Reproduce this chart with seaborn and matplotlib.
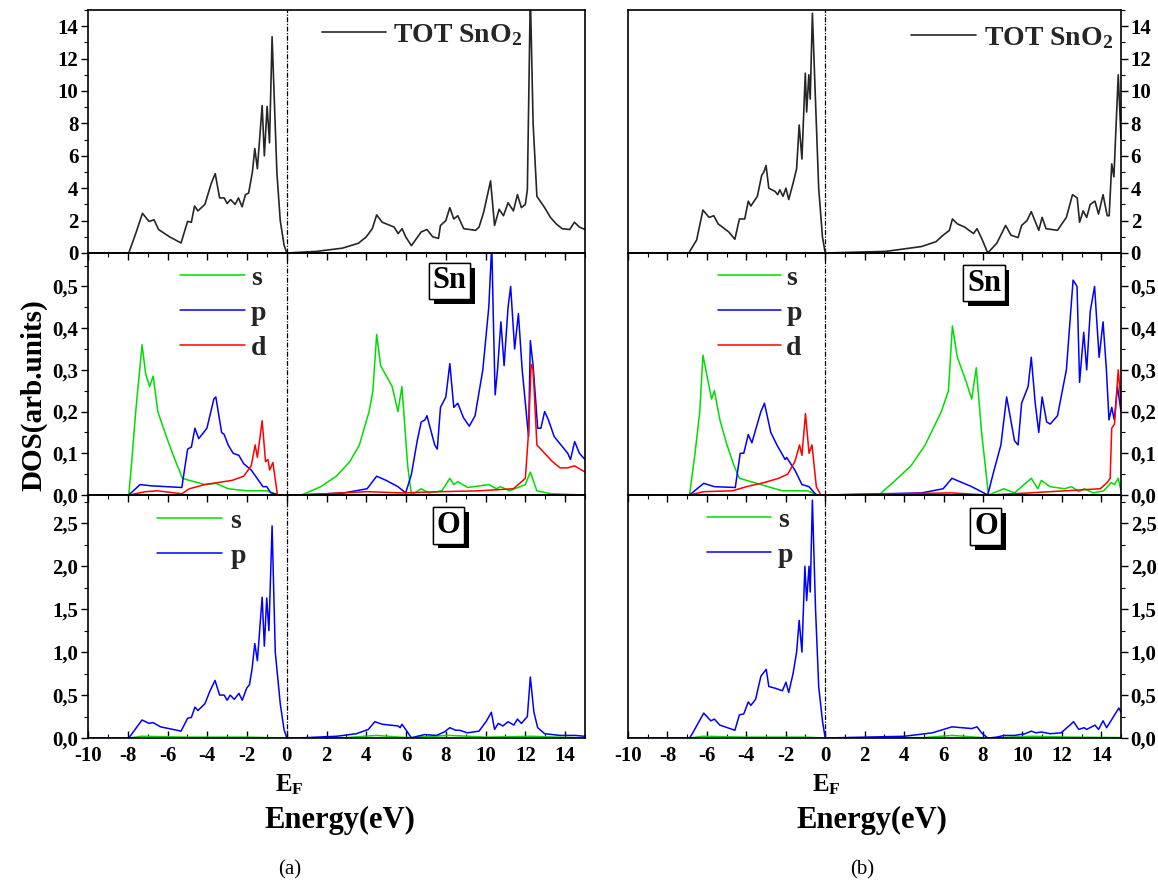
import pandas as pd
import matplotlib
matplotlib.use("Agg")
import matplotlib.pyplot as plt
import matplotlib.patheffects as pe
from matplotlib.ticker import MultipleLocator, FuncFormatter
import seaborn as sns

sns.set_theme(style="ticks")
plt.rcParams['font.family'] = ['Liberation Serif', 'DejaVu Serif']
plt.rcParams['axes.unicode_minus'] = False
plt.rcParams['mathtext.fontset'] = 'custom'
plt.rcParams['mathtext.rm'] = 'Liberation Serif:bold'
plt.rcParams['mathtext.it'] = 'Liberation Serif:bold'
plt.rcParams['mathtext.bf'] = 'Liberation Serif:bold'

# ---- digitised DOS curves: (energy eV, DOS) ----
# panel (a)
a_tot = [(-10, 0), (-7.95, 0), (-7.6, 1.2), (-7.26, 2.45), (-6.93, 1.95), (-6.68, 2.05), (-6.45, 1.45),
         (-5.9, 1.0), (-5.32, 0.62), (-4.99, 1.95), (-4.8, 1.9), (-4.64, 2.9), (-4.47, 2.6), (-4.12, 3.0),
         (-3.8, 4.3), (-3.6, 4.9), (-3.38, 3.4), (-3.15, 3.4), (-3.0, 3.05), (-2.83, 3.3), (-2.6, 3.0),
         (-2.43, 3.4), (-2.25, 2.85), (-2.08, 3.6), (-1.92, 3.7), (-1.73, 5.0), (-1.61, 6.45), (-1.48, 5.2),
         (-1.24, 9.1), (-1.13, 6.0), (-0.99, 9.05), (-0.87, 6.8), (-0.74, 13.35), (-0.5, 5.0), (-0.33, 2.0),
         (-0.14, 0.5), (0, 0), (1.5, 0.1), (2.8, 0.3), (3.6, 0.6), (4.0, 1.0), (4.3, 1.5), (4.52, 2.35),
         (4.8, 1.9), (5.4, 1.6), (5.6, 1.2), (5.8, 1.5), (5.98, 1.0), (6.27, 0.45), (6.47, 0.8), (6.76, 1.3),
         (7.05, 1.45), (7.34, 1.0), (7.63, 0.9), (7.73, 1.7), (8.0, 2.0), (8.2, 2.8), (8.4, 2.1), (8.6, 2.3),
         (8.9, 1.5), (9.5, 1.4), (9.67, 1.6), (9.9, 2.5), (10.25, 4.45), (10.45, 1.7), (10.68, 2.7),
         (10.9, 2.3), (11.13, 3.1), (11.4, 2.6), (11.6, 3.6), (11.8, 2.8), (12.0, 3.0), (12.1, 3.9),
         (12.25, 16), (12.39, 8.0), (12.58, 3.5), (12.97, 2.8), (13.26, 2.2), (13.55, 1.8), (13.85, 1.5),
         (14.23, 1.45), (14.47, 1.9), (14.72, 1.6), (15, 1.45)]
a_sn_s = [(-10, 0), (-7.95, 0), (-7.8, 0.08), (-7.6, 0.2), (-7.28, 0.36), (-7.1, 0.29), (-6.9, 0.26),
          (-6.72, 0.285), (-6.49, 0.2), (-6.06, 0.14), (-5.67, 0.09), (-5.25, 0.04), (-4.9, 0.035),
          (-4.12, 0.025), (-3.57, 0.028), (-2.95, 0.015), (-1.98, 0.01), (-1.0, 0.01), (-0.43, 0), (0.74, 0),
          (1.71, 0.02), (2.49, 0.045), (3.17, 0.08), (3.65, 0.12), (4.14, 0.2), (4.33, 0.25), (4.52, 0.385),
          (4.72, 0.31), (5.3, 0.26), (5.59, 0.2), (5.79, 0.26), (6.08, 0.07), (6.27, 0), (6.76, 0.015),
          (7.15, 0.005), (7.8, 0.01), (8.2, 0.04), (8.4, 0.025), (8.6, 0.032), (9.1, 0.018), (10.16, 0.025),
          (10.55, 0.015), (10.75, 0.02), (11.2, 0.01), (12.0, 0.025), (12.25, 0.055), (12.58, 0.01),
          (13.3, 0.003), (15, 0)]
a_sn_p = [(-10, 0), (-7.95, 0), (-7.38, 0.025), (-6.83, 0.022), (-5.28, 0.018), (-4.99, 0.11), (-4.8, 0.115),
          (-4.62, 0.16), (-4.43, 0.135), (-4.02, 0.16), (-3.67, 0.23), (-3.57, 0.235), (-3.28, 0.15),
          (-3.15, 0.145), (-2.95, 0.12), (-2.7, 0.1), (-2.41, 0.095), (-2.17, 0.075), (-1.79, 0.06),
          (-1.2, 0.02), (-1.01, 0.02), (-0.8, 0.005), (-0.33, 0), (0.6, 0), (2.87, 0.005), (4.04, 0.015),
          (4.52, 0.045), (5.0, 0.035), (5.59, 0.02), (5.98, 0.005), (6.27, 0.05), (6.56, 0.13), (6.76, 0.175),
          (6.95, 0.18), (7.05, 0.19), (7.44, 0.12), (7.57, 0.11), (7.73, 0.21), (8.0, 0.235), (8.2, 0.315),
          (8.4, 0.21), (8.6, 0.22), (8.89, 0.185), (9.18, 0.165), (9.47, 0.19), (9.86, 0.3), (10.16, 0.45),
          (10.31, 0.6), (10.4, 0.4), (10.48, 0.24), (10.6, 0.3), (10.77, 0.415), (10.93, 0.31), (11.13, 0.45),
          (11.26, 0.5), (11.46, 0.35), (11.65, 0.435), (11.84, 0.3), (12.04, 0.2), (12.16, 0.14),
          (12.25, 0.37), (12.39, 0.31), (12.62, 0.16), (12.78, 0.16), (12.97, 0.2), (13.16, 0.18),
          (13.45, 0.14), (14.13, 0.1), (14.27, 0.085), (14.48, 0.128), (14.72, 0.1), (15, 0.085)]
a_sn_d = [(-10, 0), (-7.95, 0), (-7.1, 0.008), (-6.5, 0.01), (-5.28, 0.003), (-4.9, 0.015), (-4.12, 0.025),
          (-3.44, 0.03), (-2.76, 0.035), (-2.17, 0.045), (-1.79, 0.07), (-1.59, 0.12), (-1.48, 0.09),
          (-1.24, 0.178), (-1.07, 0.08), (-0.95, 0.085), (-0.86, 0.06), (-0.7, 0.078), (-0.47, 0), (0.7, 0),
          (4.04, 0.008), (5.8, 0.005), (7.73, 0.008), (9.67, 0.01), (11.4, 0.015), (12.0, 0.04),
          (12.16, 0.15), (12.29, 0.313), (12.39, 0.3), (12.58, 0.12), (12.97, 0.1), (13.36, 0.08),
          (13.75, 0.065), (14.13, 0.065), (14.47, 0.07), (15, 0.055)]
a_o_s = [(-10, 0), (-7.95, 0), (-7.3, 0.02), (-5, 0.01), (-2, 0.01), (0, 0), (3, 0.005), (4.5, 0.03),
         (6, 0.005), (8.2, 0.03), (10, 0.01), (12.3, 0.02), (15, 0)]
a_o_p = [(-10, 0), (-7.95, 0), (-7.28, 0.21), (-6.93, 0.17), (-6.74, 0.18), (-6.35, 0.13), (-5.32, 0.08),
         (-4.99, 0.23), (-4.8, 0.24), (-4.62, 0.36), (-4.47, 0.32), (-4.12, 0.4), (-3.86, 0.55), (-3.61, 0.67),
         (-3.38, 0.5), (-3.15, 0.5), (-3.0, 0.44), (-2.85, 0.5), (-2.64, 0.45), (-2.41, 0.52), (-2.24, 0.44),
         (-2.02, 0.58), (-1.88, 0.62), (-1.75, 0.8), (-1.61, 1.1), (-1.48, 0.9), (-1.24, 1.64), (-1.13, 1.07),
         (-1.01, 1.63), (-0.9, 1.25), (-0.74, 2.47), (-0.58, 1.0), (-0.33, 0.4), (-0.14, 0.1), (0, 0),
         (0.5, 0), (2.5, 0.02), (3.5, 0.05), (4.1, 0.1), (4.43, 0.19), (4.8, 0.16), (5.6, 0.14), (5.7, 0.12),
         (5.79, 0.16), (5.98, 0.1), (6.27, 0), (6.56, 0.02), (6.95, 0.04), (7.53, 0.03), (7.92, 0.07),
         (8.2, 0.12), (8.5, 0.09), (8.7, 0.09), (9.08, 0.06), (9.67, 0.08), (10.05, 0.2), (10.29, 0.3),
         (10.45, 0.1), (10.64, 0.17), (10.87, 0.14), (11.13, 0.19), (11.42, 0.15), (11.6, 0.22), (11.8, 0.17),
         (12.1, 0.25), (12.25, 0.71), (12.43, 0.3), (12.62, 0.12), (12.97, 0.05), (13.75, 0.03), (14.5, 0.03),
         (15, 0.02)]

# panel (b)
b_tot = [(-10, 0), (-6.92, 0), (-6.67, 0.5), (-6.52, 0.8), (-6.2, 2.65), (-5.89, 2.2), (-5.65, 2.3),
         (-5.43, 1.8), (-4.89, 1.3), (-4.58, 0.85), (-4.35, 2.1), (-4.08, 2.1), (-3.9, 3.2), (-3.77, 2.9),
         (-3.44, 3.5), (-3.22, 4.8), (-3.11, 5.0), (-3.0, 5.4), (-2.86, 4.0), (-2.54, 3.8), (-2.41, 3.6),
         (-2.3, 3.9), (-2.14, 3.5), (-1.99, 4.0), (-1.85, 3.3), (-1.63, 4.3), (-1.45, 5.2), (-1.32, 7.9),
         (-1.18, 5.8), (-1.01, 11.1), (-0.94, 8.7), (-0.83, 11.0), (-0.76, 9.5), (-0.65, 14.8), (-0.51, 10),
         (-0.33, 4), (-0.14, 1), (0, 0), (3.08, 0.1), (4.89, 0.4), (5.62, 0.7), (5.98, 1.1), (6.3, 1.4),
         (6.45, 2.1), (6.7, 1.8), (7.07, 1.6), (7.52, 1.2), (7.7, 1.5), (7.97, 0.8), (8.24, 0), (8.7, 0.6),
         (9.15, 1.7), (9.42, 1.1), (9.78, 0.95), (9.96, 1.7), (10.23, 2.0), (10.45, 2.55), (10.83, 1.4),
         (11.0, 2.2), (11.2, 1.5), (11.78, 1.4), (12.23, 2.2), (12.54, 3.6), (12.78, 3.4), (12.9, 1.9),
         (13.08, 2.6), (13.26, 2.2), (13.44, 3.0), (13.68, 3.2), (13.86, 2.4), (14.09, 3.6), (14.3, 2.3),
         (14.4, 2.3), (14.53, 5.5), (14.64, 4.7), (14.86, 11.0), (15, 7.1)]
b_sn_s = [(-10, 0), (-6.88, 0), (-6.6, 0.1), (-6.36, 0.2), (-6.2, 0.335), (-5.76, 0.23), (-5.62, 0.25),
          (-5.34, 0.18), (-4.98, 0.12), (-4.62, 0.07), (-4.35, 0.04), (-3.62, 0.03), (-2.9, 0.02),
          (-2.17, 0.01), (-0.9, 0.01), (-0.36, 0), (2.72, 0), (3.44, 0.03), (4.35, 0.07), (5.07, 0.12),
          (5.89, 0.2), (6.25, 0.25), (6.45, 0.405), (6.7, 0.33), (7.16, 0.27), (7.43, 0.23), (7.66, 0.305),
          (7.93, 0.15), (8.28, 0), (9.06, 0.015), (9.6, 0.005), (10.45, 0.04), (10.78, 0.015), (10.96, 0.035),
          (11.4, 0.02), (12.14, 0.015), (12.5, 0.02), (12.86, 0.008), (13.13, 0.015), (13.59, 0.005),
          (14.13, 0.01), (14.5, 0.03), (14.67, 0.025), (14.86, 0.04), (15, 0.01)]
b_sn_p = [(-10, 0), (-6.88, 0), (-6.16, 0.028), (-5.62, 0.02), (-4.56, 0.018), (-4.31, 0.1), (-4.13, 0.1),
          (-3.9, 0.145), (-3.72, 0.125), (-3.26, 0.2), (-3.08, 0.22), (-2.76, 0.15), (-2.45, 0.12),
          (-2.03, 0.085), (-1.96, 0.09), (-1.54, 0.06), (-1.18, 0.025), (-0.82, 0.02), (-0.45, 0), (0, 0),
          (4.89, 0.005), (5.98, 0.015), (6.43, 0.04), (7.43, 0.02), (8.24, 0), (8.51, 0.05), (8.91, 0.12),
          (9.2, 0.235), (9.6, 0.13), (9.78, 0.12), (9.96, 0.22), (10.29, 0.26), (10.45, 0.33), (10.65, 0.22),
          (10.83, 0.15), (11.0, 0.235), (11.23, 0.175), (11.41, 0.17), (11.78, 0.19), (12.23, 0.3),
          (12.57, 0.515), (12.77, 0.5), (12.9, 0.27), (13.11, 0.39), (13.26, 0.3), (13.44, 0.44),
          (13.66, 0.5), (13.89, 0.33), (14.09, 0.415), (14.26, 0.3), (14.39, 0.18), (14.53, 0.21),
          (14.66, 0.18), (14.82, 0.26), (15, 0.2)]
b_sn_d = [(-10, 0), (-6.88, 0), (-6.16, 0.008), (-4.71, 0.01), (-3.99, 0.02), (-3.08, 0.03), (-2.36, 0.04),
          (-1.9, 0.05), (-1.54, 0.08), (-1.3, 0.12), (-1.18, 0.095), (-1.0, 0.195), (-0.82, 0.1),
          (-0.67, 0.12), (-0.45, 0.02), (-0.22, 0), (0, 0), (6.4, 0.005), (8.24, 0), (10.34, 0.005),
          (12.14, 0.01), (13.95, 0.015), (14.3, 0.03), (14.45, 0.04), (14.53, 0.16), (14.67, 0.17),
          (14.86, 0.3), (14.95, 0.25), (15, 0.2)]
b_o_s = [(-10, 0), (-6.88, 0), (-6.2, 0.02), (-4, 0.01), (-1, 0.01), (0, 0), (5, 0.005), (6.45, 0.03),
         (8.24, 0), (10.45, 0.02), (12.5, 0.01), (15, 0.005)]
b_o_p = [(-10, 0), (-6.88, 0), (-6.74, 0.05), (-6.16, 0.29), (-5.8, 0.2), (-5.62, 0.22), (-5.34, 0.15),
         (-4.58, 0.09), (-4.35, 0.27), (-4.13, 0.28), (-3.9, 0.42), (-3.77, 0.38), (-3.53, 0.45), (-3.26, 0.72),
         (-2.99, 0.8), (-2.86, 0.6), (-2.54, 0.58), (-2.17, 0.55), (-1.99, 0.65), (-1.85, 0.53), (-1.63, 0.75),
         (-1.45, 1.0), (-1.32, 1.37), (-1.18, 1.0), (-1.03, 2.0), (-0.94, 1.6), (-0.82, 2.0), (-0.76, 1.7),
         (-0.65, 2.77), (-0.49, 1.5), (-0.33, 0.6), (-0.14, 0.2), (0, 0), (4.0, 0.02), (5.43, 0.06),
         (6.43, 0.13), (7.43, 0.11), (7.7, 0.13), (7.93, 0.06), (8.24, 0), (8.7, 0.01), (9.06, 0.03),
         (9.6, 0.03), (10.14, 0.05), (10.45, 0.08), (10.69, 0.06), (10.96, 0.07), (11.41, 0.05), (11.96, 0.06),
         (12.41, 0.15), (12.59, 0.19), (12.86, 0.1), (13.13, 0.12), (13.26, 0.1), (13.68, 0.15), (13.86, 0.1),
         (14.09, 0.2), (14.27, 0.12), (14.49, 0.2), (14.89, 0.35), (15, 0.3)]

GREEN, BLUE, RED = '#00dd00', '#0000ff', '#ff0000'
FIG_W, FIG_H = 1158, 885


def to_df(pts):
    return pd.DataFrame(pts, columns=['E', 'DOS'])


def comma_fmt(v, pos):
    return f'{v:.1f}'.replace('.', ',')


def boxed_label(ax, text, x, y):
    t = ax.text(x, y, text, transform=ax.transAxes, ha='center', va='center', fontsize=22,
                fontweight='bold', color='black', zorder=10,
                bbox=dict(boxstyle='square,pad=0.12', fc='white', ec='black', lw=1.0))
    t.get_bbox_patch().set_path_effects([
        pe.withSimplePatchShadow(offset=(3.5, -3.5), shadow_rgbFace='black', alpha=1.0),
        pe.Normal()])


def draw_panel(left_px, right_px, side, tot, sn, o, leg_pos):
    tops = [10, 253, 495]
    bots = [253, 495, 738]
    axes = []
    for t, b in zip(tops, bots):
        ax = fig.add_axes([left_px / FIG_W, 1 - b / FIG_H, (right_px - left_px) / FIG_W, (b - t) / FIG_H])
        ax.patch.set_visible(False)
        axes.append(ax)
    ax_t, ax_m, ax_b = axes

    sns.lineplot(data=to_df(tot), x='E', y='DOS', ax=ax_t, color='#262626', lw=1.2,
                 estimator=None, sort=False, label='TOT SnO$_2$')
    for pts, c, lab in zip(sn, [GREEN, BLUE, RED], ['s', 'p', 'd']):
        sns.lineplot(data=to_df(pts), x='E', y='DOS', ax=ax_m, color=c, lw=1.1,
                     estimator=None, sort=False, label=lab)
    for pts, c, lab in zip(o, [GREEN, BLUE], ['s', 'p']):
        sns.lineplot(data=to_df(pts), x='E', y='DOS', ax=ax_b, color=c, lw=1.1,
                     estimator=None, sort=False, label=lab)

    ax_t.set_ylim(0, 15)
    ax_m.set_ylim(0, 0.58)
    ax_b.set_ylim(0, 2.83)
    ax_t.yaxis.set_major_locator(MultipleLocator(2))
    ax_t.yaxis.set_minor_locator(MultipleLocator(1))
    ax_m.yaxis.set_major_locator(MultipleLocator(0.1))
    ax_m.yaxis.set_minor_locator(MultipleLocator(0.05))
    ax_b.yaxis.set_major_locator(MultipleLocator(0.5))
    ax_b.yaxis.set_minor_locator(MultipleLocator(0.25))
    ax_m.yaxis.set_major_formatter(FuncFormatter(comma_fmt))
    ax_b.yaxis.set_major_formatter(FuncFormatter(comma_fmt))

    for i, ax in enumerate(axes):
        ax.set_xlim(-10, 15)
        ax.xaxis.set_major_locator(MultipleLocator(2))
        ax.xaxis.set_minor_locator(MultipleLocator(1))
        ax.axvline(0, color='black', lw=0.9, ls=(0, (4, 1.2, 1, 1.2)), zorder=1)
        ax.set_xlabel('')
        ax.set_ylabel('')
        for sp in ax.spines.values():
            sp.set_visible(True)
            sp.set_color('black')
            sp.set_linewidth(1.2)
        ax.tick_params(axis='x', which='both', direction='in' if i == 2 else 'out',
                       bottom=True, top=False, labelbottom=(i == 2), colors='black',
                       labelsize=15, pad=6)
        ax.tick_params(axis='y', which='both', direction='out', left=(side == 'left'),
                       right=(side == 'right'), labelleft=(side == 'left'),
                       labelright=(side == 'right'), colors='black', labelsize=15, pad=2)
        ax.tick_params(which='major', length=5, width=1.0)
        ax.tick_params(which='minor', length=3, width=0.8)
        for lab in ax.get_xticklabels() + ax.get_yticklabels():
            lab.set_fontweight('bold')

    # legends
    for ax, (x, y, hl, tp) in zip(axes, leg_pos):
        ax.legend(loc='upper left', bbox_to_anchor=(x, y), frameon=False,
                  prop={'weight': 'bold', 'size': 20}, handlelength=hl, handletextpad=tp,
                  borderpad=0, borderaxespad=0, labelspacing=0.35)
    return axes


fig = plt.figure(figsize=(FIG_W / 100, FIG_H / 100), dpi=100)

axes_a = draw_panel(88, 585, 'left', a_tot, [a_sn_s, a_sn_p, a_sn_d], [a_o_s, a_o_p],
                    [(0.471, 0.95, 2.3, 0.25), (0.185, 0.95, 2.35, 0.2), (0.139, 0.945, 2.35, 0.28)])
axes_b = draw_panel(628, 1121, 'right', b_tot, [b_sn_s, b_sn_p, b_sn_d], [b_o_s, b_o_p],
                    [(0.574, 0.938, 2.35, 0.28), (0.183, 0.95, 2.25, 0.2), (0.16, 0.95, 2.3, 0.25)])

boxed_label(axes_a[1], 'Sn', 0.728, 0.885)
boxed_label(axes_a[2], 'O', 0.726, 0.875)
boxed_label(axes_b[1], 'Sn', 0.722, 0.875)
boxed_label(axes_b[2], 'O', 0.726, 0.87)

fig.text(34 / FIG_W, 1 - 395 / FIG_H, 'DOS(arb.units)', rotation=90, ha='center', va='center',
         fontsize=21, fontweight='bold', color='black')
for xc, xe in [(289, 340), (826, 872)]:
    fig.text(xc / FIG_W, 1 - 785 / FIG_H, r'E$_\mathrm{F}$', ha='center', va='center',
             fontsize=18, fontweight='bold', color='black')
    fig.text(xe / FIG_W, 1 - 820 / FIG_H, 'Energy(eV)', ha='center', va='center',
             fontsize=22, fontweight='bold', color='black')
fig.text(290 / FIG_W, 1 - 870 / FIG_H, '(a)', ha='center', va='center', fontsize=15, color='black')
fig.text(862 / FIG_W, 1 - 870 / FIG_H, '(b)', ha='center', va='center', fontsize=15, color='black')

fig.savefig('out.png', dpi=100, facecolor='white')
